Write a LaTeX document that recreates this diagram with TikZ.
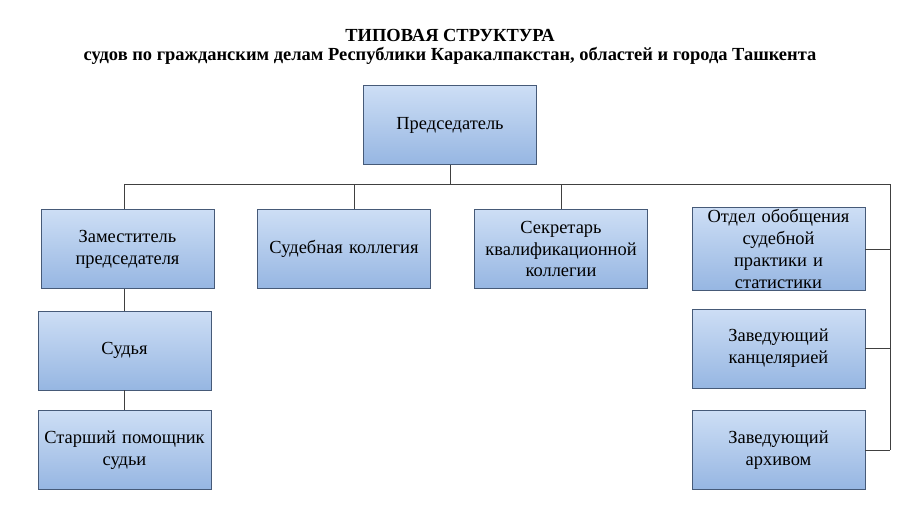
\documentclass[tikz,border=0pt]{standalone}
\usepackage{fontspec}
\setmainfont{Liberation Serif}
\definecolor{boxtop}{RGB}{205,222,245}
\definecolor{boxbot}{RGB}{150,182,226}
\definecolor{boxline}{RGB}{70,90,120}
\tikzset{
	unit/.style={draw=boxline, line width=0.5pt, top color=boxtop, bottom color=boxbot, minimum width=3.46cm, minimum height=1.58cm, text width=3.3cm, align=center, font=\fontsize{10.5}{12.5}\selectfont, inner sep=1pt},
	link/.style={draw=black!75, line width=0.5pt}
}
\begin{document}
\begin{tikzpicture}[x=0.02cm, y=-0.02cm]
	\useasboundingbox (0,0) rectangle (900,506);
	\node[font=\bfseries\fontsize{10.5}{12}\selectfont] (title) at (450,35) {ТИПОВАЯ СТРУКТУРА};
	\node[font=\bfseries\fontsize{10.5}{12}\selectfont] (subtitle) at (450,56) {судов по гражданским делам Республики Каракалпакстан, областей и города Ташкента};

	\node[unit] (chair) at (450,125) {Председатель};
	\node[unit] (deputy) at (127.5,249) {Заместитель\\председателя};
	\node[unit] (board) at (344,249) {Судебная коллегия};
	\node[unit] (secr) at (561,249) {Секретарь\\квалификационной\\коллегии};
	\node[unit] (dept) at (778.5,249) {Отдел обобщения\\судебной практики и\\статистики};
	\node[unit] (judge) at (124.5,350.5) {Судья};
	\node[unit] (assist) at (124.5,450) {Старший помощник\\судьи};
	\node[unit] (office) at (778.5,348.5) {Заведующий\\канцелярией};
	\node[unit] (archive) at (778.5,450) {Заведующий архивом};

	\coordinate (busL) at (124,184);
	\coordinate (busR) at (890,184);
	\coordinate (railB) at (890,450);

	\draw[link] (chair.south) -- (chair.south |- busL);
	\draw[link] (busL) -- (busR) -- (railB);
	\draw[link] (busL) -- (busL |- deputy.north);
	\draw[link] (board.north) ++(10,0) coordinate (bt) -- (bt |- busL);
	\draw[link] (secr.north) -- (secr.north |- busL);
	\draw[link] (dept.east) -- (dept.east -| busR);
	\draw[link] (office.east) -- (office.east -| busR);
	\draw[link] (archive.east) -- (railB);
	\draw[link] (deputy.south -| judge.north) -- (judge.north);
	\draw[link] (judge.south) -- (assist.north);
\end{tikzpicture}
\end{document}
